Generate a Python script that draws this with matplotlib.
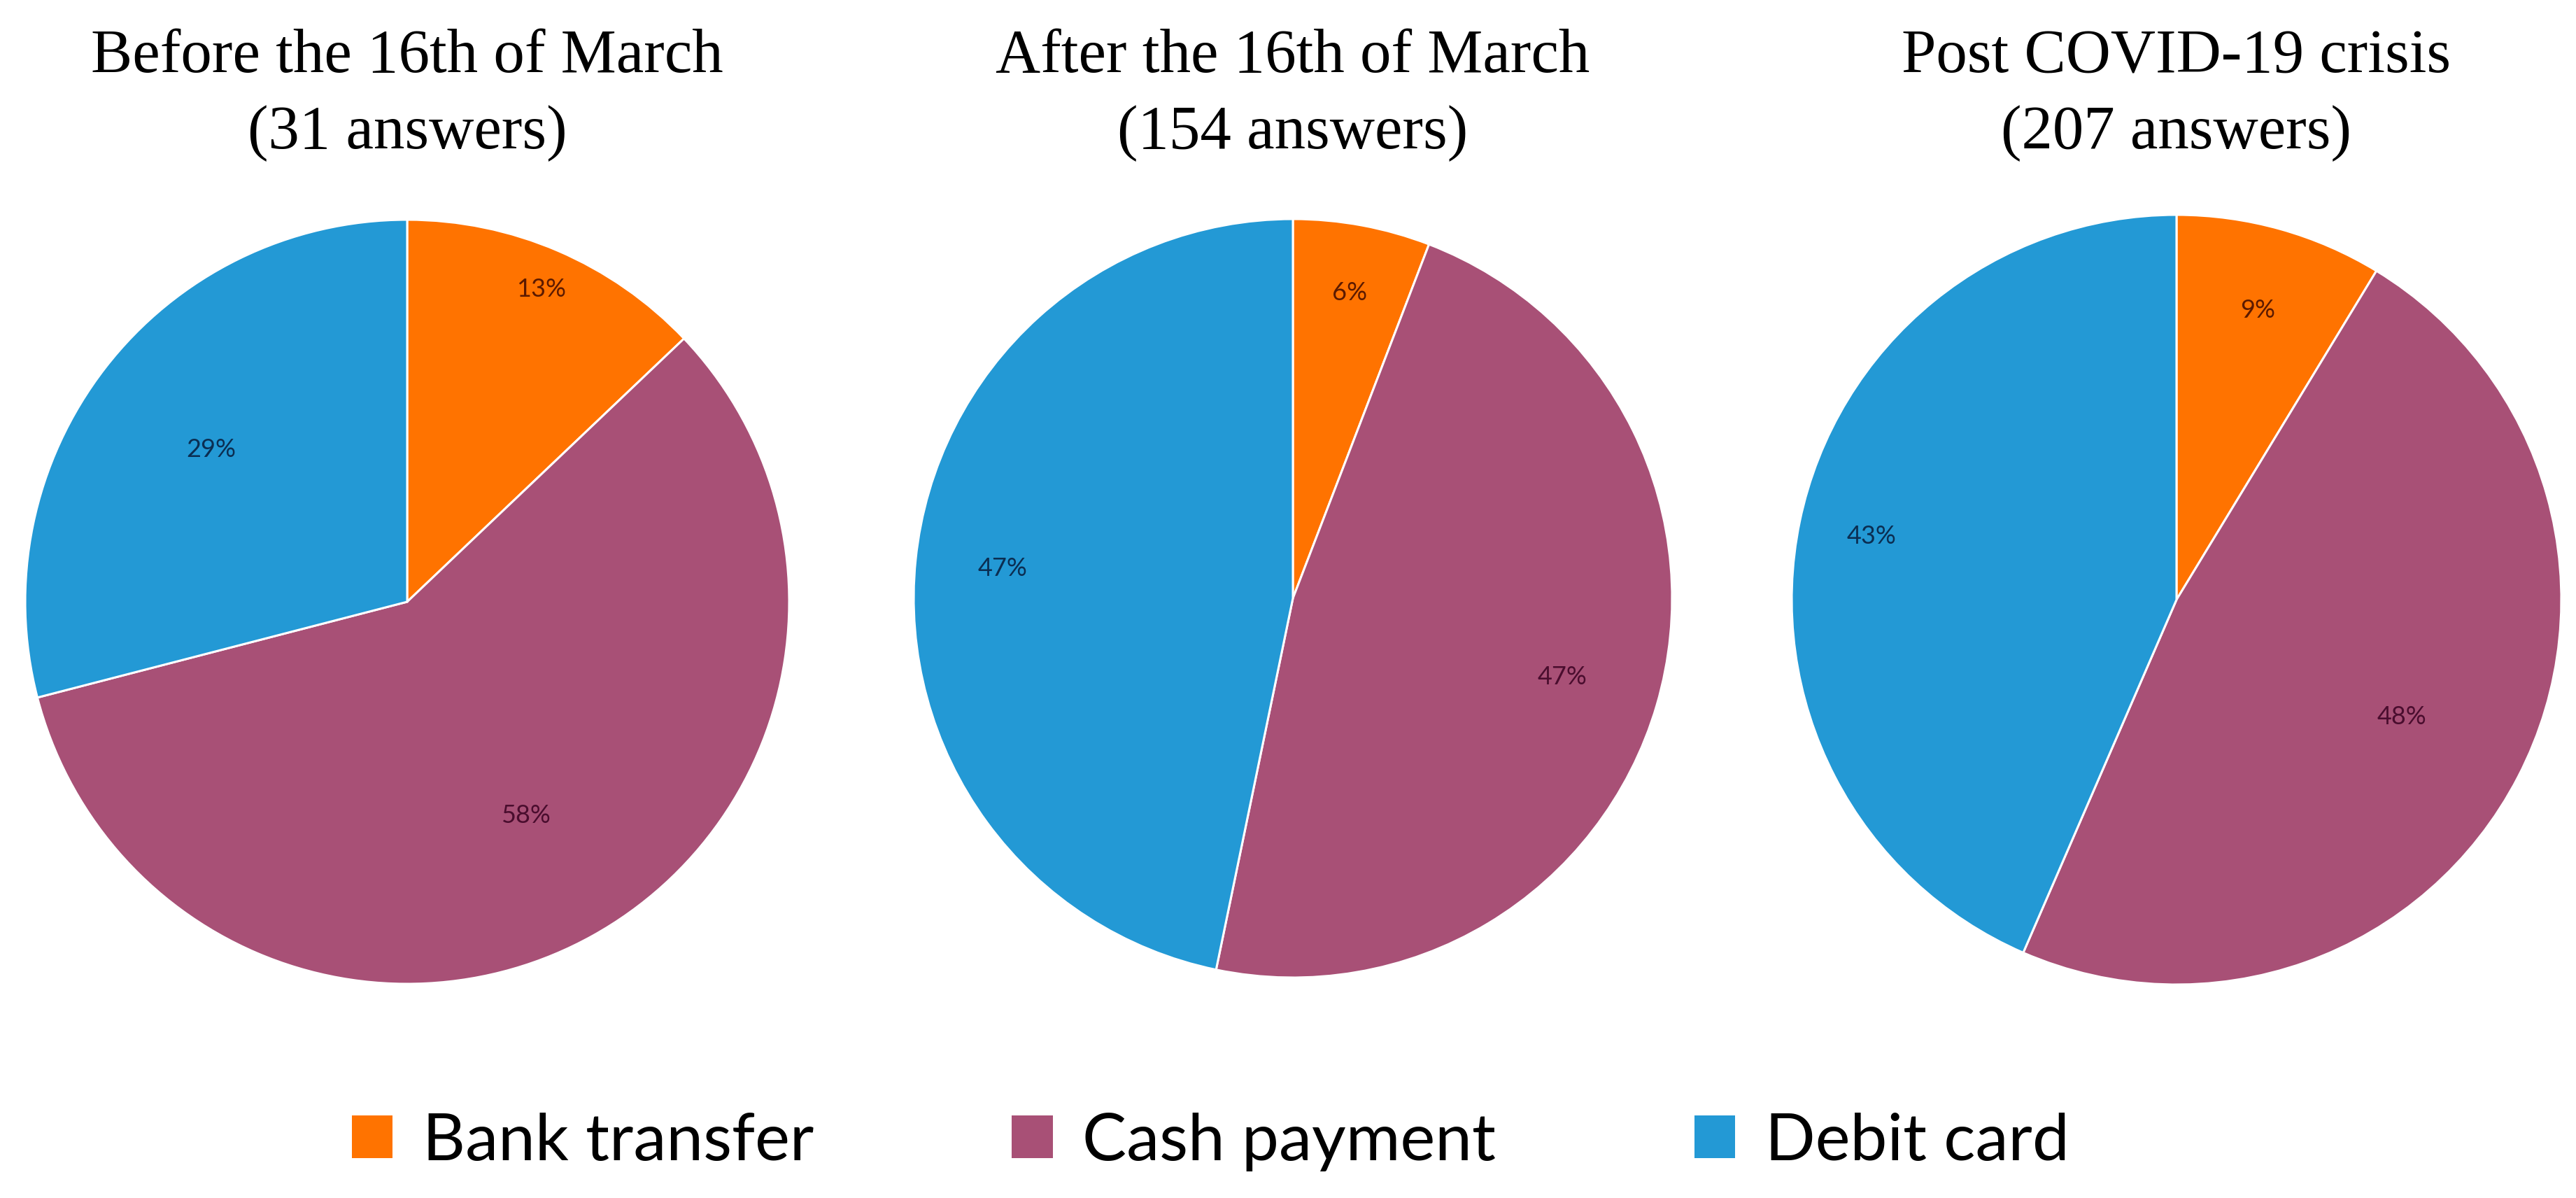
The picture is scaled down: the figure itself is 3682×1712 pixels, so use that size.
import matplotlib

matplotlib.use("Agg")

import matplotlib.pyplot as plt
import numpy as np
from matplotlib.patches import Patch


CATEGORIES = ["Bank transfer", "Cash payment", "Debit card"]
TITLES = ["Before the 16th of March", "After the 16th of March", "Post COVID-19 crisis"]
N_ANSWERS = [31, 154, 207]

BEFORE = [4, 18, 9]
AFTER = [9, 73, 72]
POST = [18, 99, 90]

COLORS = ["#FF7300", "#A85076", "#2399D5"]
LABEL_COLORS = ["#5C1A00", "#4A0D2E", "#0B2E52"]

W, H = 3682, 1712

# pie centre and radius in pixels, plus per-slice label distance (fraction of radius)
PIES = [
    ((582, 860, 546), [0.89, 0.64, 0.65]),
    ((1848, 855, 542), [0.82, 0.74, 0.77]),
    ((3111, 857, 550), [0.78, 0.66, 0.81]),
]


def draw_pie(fig, values, title, n, geom, dists):
    cx, cy, r = geom
    ax = fig.add_axes([(cx - r) / W, (H - cy - r) / H, 2 * r / W, 2 * r / H])
    wedges, _ = ax.pie(
        values,
        colors=COLORS,
        startangle=90,
        counterclock=False,
        radius=1.0,
        wedgeprops={"edgecolor": "white", "linewidth": 2.2},
    )
    total = float(sum(values))
    for w, v, d, c in zip(wedges, values, dists, LABEL_COLORS):
        theta = np.deg2rad((w.theta1 + w.theta2) / 2)
        ax.text(d * np.cos(theta), d * np.sin(theta), f"{100 * v / total:.0f}%",
                ha="center", va="center", fontsize=26, color=c, family=["Lato", "DejaVu Sans"])
    ax.set_xlim(-1, 1)
    ax.set_ylim(-1, 1)
    ax.set_aspect("equal")
    ax.axis("off")

    fig.text(cx / W, (H - 212) / H, f"{title}\n({n} answers)", ha="center", va="baseline",
             fontsize=64, family=["Liberation Serif", "DejaVu Serif"], linespacing=1.45, color="black")


def main() -> None:
    fig = plt.figure(figsize=(W / 100, H / 100), dpi=100)
    fig.patch.set_facecolor("white")

    for values, title, n, (geom, dists) in zip([BEFORE, AFTER, POST], TITLES, N_ANSWERS, PIES):
        draw_pie(fig, values, title, n, geom, dists)

    handles = [Patch(facecolor=c, edgecolor="none", label=name) for c, name in zip(COLORS, CATEGORIES)]
    fig.legend(
        handles=handles,
        loc="center",
        bbox_to_anchor=(1730 / W, (H - 1632) / H),
        ncol=3,
        frameon=False,
        prop={"family": ["Lato", "DejaVu Sans"], "size": 68},
        handlelength=0.62,
        handleheight=0.62,
        handletextpad=0.45,
        columnspacing=3.0,
    )

    fig.savefig("out.png", dpi=100, facecolor="white")
    plt.close(fig)


if __name__ == "__main__":
    main()
